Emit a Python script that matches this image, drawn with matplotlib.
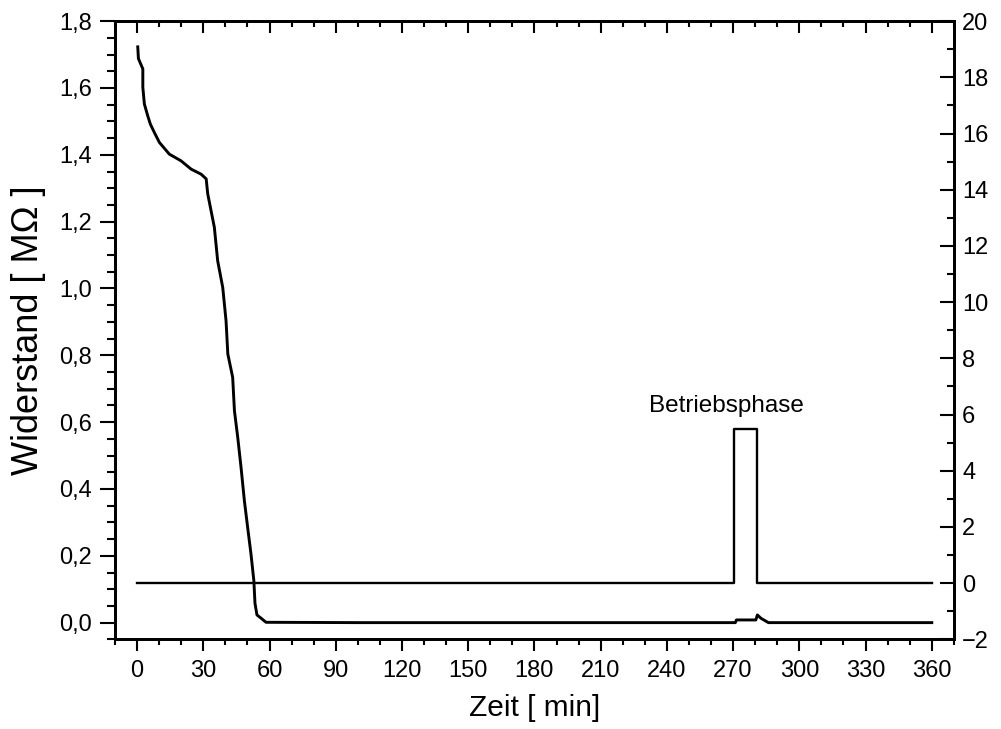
import matplotlib.pyplot as plt
from matplotlib.ticker import MultipleLocator, FuncFormatter

plt.rcParams['font.family'] = ['Liberation Sans', 'DejaVu Sans']

# Widerstand (left axis) over time
zeit = [0.3, 0.6, 2.6, 2.6, 3.3, 4.8, 6.0, 7.8, 10.1, 14.6, 19.9, 24.5, 29.0,
        31.3, 32.0, 33.5, 35.0, 36.5, 38.8, 40.3, 41.1, 43.3, 44.1, 45.6, 47.1,
        48.6, 50.1, 51.6, 52.9, 53.4, 54.3, 56.2, 58.4, 100, 200, 271.0, 271.5,
        280.3, 281.0, 282.6, 286.0, 360]
widerstand = [1.723, 1.688, 1.657, 1.602, 1.552, 1.517, 1.492, 1.467, 1.437, 1.402,
              1.382, 1.357, 1.342, 1.328, 1.283, 1.233, 1.183, 1.083, 1.003, 0.903,
              0.804, 0.734, 0.634, 0.554, 0.464, 0.365, 0.284, 0.205, 0.125, 0.058,
              0.023, 0.013, 0.001, 0.0, 0.0, 0.0, 0.008, 0.008, 0.023, 0.013, 0.0, 0.0]

# Betriebsphase signal (right axis)
phase_t = [0, 270.2, 270.2, 280.7, 280.7, 360]
phase_v = [0, 0, 5.5, 5.5, 0, 0]

fig = plt.figure(figsize=(10.01, 7.29), dpi=100)
ax = fig.add_axes([0.1149, 0.123, 0.838, 0.848])
ax2 = ax.twinx()

ax.plot(zeit, widerstand, color='black', lw=2.1)
ax2.plot(phase_t, phase_v, color='black', lw=1.7)
ax2.text(266.8, 6.3, "Betriebsphase", ha='center', va='center', fontsize=17.5)

ax.set_xlim(-10, 370)
ax.set_ylim(-0.05, 1.8)
ax2.set_ylim(-2, 20)

comma = FuncFormatter(lambda v, p: f"{v:.1f}".replace('.', ','))
ax.xaxis.set_major_locator(MultipleLocator(30))
ax.xaxis.set_minor_locator(MultipleLocator(10))
ax.yaxis.set_major_locator(MultipleLocator(0.2))
ax.yaxis.set_minor_locator(MultipleLocator(0.05))
ax.yaxis.set_major_formatter(comma)
ax2.yaxis.set_major_locator(MultipleLocator(2))
ax2.yaxis.set_minor_locator(MultipleLocator(1))

ax.tick_params(axis='x', which='both', direction='out', top=False, labelsize=17, pad=6)
ax.tick_params(axis='x', which='major', length=8.6, width=1.5)
ax.tick_params(axis='x', which='minor', length=4.3, width=1.5)
ax.tick_params(axis='y', which='both', direction='out', labelsize=17, pad=6)
ax.tick_params(axis='y', which='major', length=10.8, width=1.5)
ax.tick_params(axis='y', which='minor', length=5.8, width=1.5)
ax2.tick_params(axis='y', which='both', direction='in', labelsize=17, pad=6)
ax2.tick_params(axis='y', which='major', length=10, width=1.5)
ax2.tick_params(axis='y', which='minor', length=5, width=1.5)

# top ticks point inward, no labels
top = ax.secondary_xaxis('top')
top.xaxis.set_major_locator(MultipleLocator(30))
top.xaxis.set_minor_locator(MultipleLocator(10))
top.tick_params(axis='x', which='both', direction='in', labeltop=False, width=1.5)
top.tick_params(axis='x', which='major', length=8.6)
top.tick_params(axis='x', which='minor', length=4.3)
top.spines['top'].set_linewidth(2)

for a in (ax, ax2):
    for s in a.spines.values():
        s.set_linewidth(2)

ax.set_xlabel("Zeit [ min]", fontsize=21.5, labelpad=9)
ax.set_ylabel("Widerstand [ M\u03a9 ]", fontsize=26, labelpad=9)

fig.savefig("out.png", dpi=100)
